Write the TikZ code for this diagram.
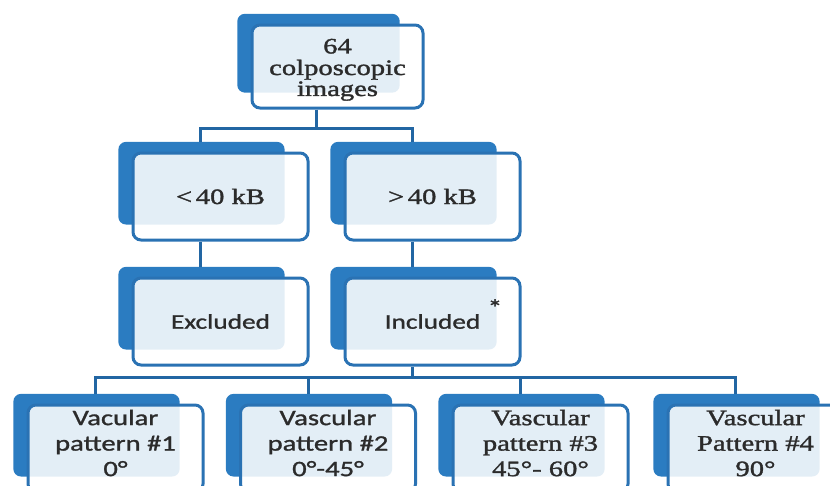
\documentclass[tikz,border=0pt]{standalone}
\usepackage{fontspec}
\setmainfont{Liberation Serif}
\newfontfamily\serifw[FakeStretch=1.3,FakeBold=1.5]{Liberation Serif}
\newfontfamily\sansw[FakeStretch=1.3,FakeBold=1.2]{Carlito}
\usetikzlibrary{shadows}
\definecolor{backblue}{HTML}{2B7CC1}
\definecolor{edgeblue}{HTML}{2A72B3}
\definecolor{linkblue}{HTML}{2266A3}
\definecolor{txt}{HTML}{2B2B2B}
\newcommand{\shiftlines}[2]{\raisebox{#1}[\height][\depth]{\begin{tabular}{@{}c@{}}#2\end{tabular}}}
\begin{document}
\begin{tikzpicture}[x=1pt,y=-1pt,
  card/.style={draw=edgeblue, line width=3pt, rounded corners=8pt, fill=white,
    fill opacity=0.87, text opacity=1, minimum width=175pt, minimum height=87pt,
    inner sep=0pt, text=txt, align=center,
    copy shadow={shadow xshift=-20pt, shadow yshift=14pt, shadow scale=0.95,
      fill=backblue, draw=none, fill opacity=1}},
  serifbig/.style={font=\serifw\fontsize{22}{21}\selectfont},
  sansmid/.style={font=\sansw\fontsize{21}{24}\selectfont},
  serifl4/.style={font=\serifw\fontsize{22}{25.5}\selectfont},
  sansl4/.style={font=\sansw\fontsize{22}{25.5}\selectfont},
  conn/.style={draw=linkblue, line width=3pt}]
\useasboundingbox (0,0) rectangle (830,485);
\clip (0,0) rectangle (830,485);

\node[card, serifbig, minimum width=171pt, minimum height=83pt] (top) at (337.5,66.5) {\shiftlines{-4pt}{64\\colposcopic\\images}};
\node[card, serifbig] (lt) at (220.5,196.5) {<\,40 kB};
\node[card, serifbig] (rt) at (432.5,196.5) {>\,40 kB};
\node[card, sansmid] (lb) at (220.5,321.5) {Excluded};
\node[card, sansmid] (rb) at (432.5,321.5) {Included};
\node[font=\sansw\fontsize{23}{23}\selectfont, text=txt, inner sep=0pt] (ast) at ([xshift=62.5pt,yshift=14pt]rb.center) {*};

\node[card, sansl4] (p1) at (115.5,448.5) {\shiftlines{3pt}{Vacular\\pattern \#1\\0°}};
\node[card, sansl4] (p2) at (328,448.5) {\shiftlines{3pt}{Vascular\\pattern \#2\\0°-45°}};
\node[card, serifl4] (p3) at (540.5,448.5) {\shiftlines{3pt}{Vascular\\pattern \#3\\45°- 60°}};
\node[card, serifl4] (p4) at (755.5,448.5) {\shiftlines{3pt}{Vascular\\Pattern \#4\\90°}};

\draw[conn] ([xshift=-21pt]top.south) -- ++(0,19) coordinate (hubA);
\draw[conn] (hubA) -| ([xshift=-20pt,yshift=10pt]lt.north);
\draw[conn] (hubA) -| ([xshift=-20pt,yshift=10pt]rt.north);
\draw[conn] ([xshift=-20pt]lt.south) -- ([xshift=-20pt,yshift=10pt]lb.north);
\draw[conn] ([xshift=-20pt]rt.south) -- ([xshift=-20pt,yshift=10pt]rb.north);
\draw[conn] ([xshift=-20pt]rb.south) -- ++(0,11) coordinate (hubB);
\foreach \n in {p1,p2,p3,p4}
  \draw[conn] (hubB) -| ([xshift=-20pt,yshift=10pt]\n.north);
\end{tikzpicture}
\end{document}
